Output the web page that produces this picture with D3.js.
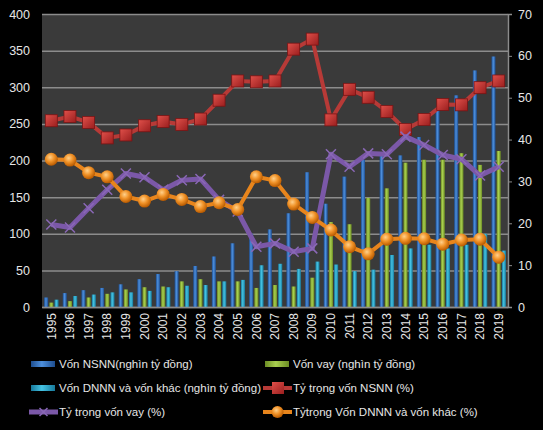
<!DOCTYPE html>
<html>
<head>
<meta charset="utf-8">
<script src="https://cdn.jsdelivr.net/npm/d3@7"></script>
<style>
body{margin:0;background:#000;}
svg text{font-family:"Liberation Sans",Arial,sans-serif;fill:#e6e6e6;}
</style>
</head>
<body>
<script>
// data
let years=[1995,1996,1997,1998,1999,2000,2001,2002,2003,2004,2005,2006,2007,2008,2009,2010,2011,2012,2013,2014,2015,2016,2017,2018,2019];
let vonNSNN=[13,19,23,26,31,38,45,49,56,69,87,100,106,128,184,141,178,201,206,207,232,269,289,323,342];
let vonVay=[6,8,13,18,24,27,28,35,38,35,35,26,30,28,40,116,113,149,162,197,201,201,210,194,213];
let vonDNNN=[10,15,17,20,20,22,27,29,30,35,37,57,59,52,62,58,49,51,71,80,85,80,85,100,77];
let ttNSNN=[44.5,45.5,44.1,40.4,41.1,43.3,44.3,43.6,44.9,49.4,54,53.8,54,61.6,64,44.7,52,50.1,46.7,42.4,44.8,48.4,48.3,52.4,54];
let ttVay=[19.7,19,23.6,28,31.9,31,28,30.3,30.6,25.6,22.8,14.4,15.2,13.2,14,36.5,33.5,36.7,36.5,40.7,38.7,36.3,35.3,31.4,33.5];
let ttDNNN=[35.3,35.1,32.1,31.1,26.4,25.3,26.9,25.7,24,24.9,23.3,31.1,30.2,24.6,21.4,18.4,14.4,12.7,16.2,16.4,16.3,15,16,16.2,11.9];
let leftTicks=[0,50,100,150,200,250,300,350,400];
let rightTicks=[0,10,20,30,40,50,60,70];
let barNames=["Vốn NSNN(nghìn tỷ đồng)","Vốn vay (nghìn tỷ đồng)","Vốn DNNN và vốn khác (nghìn tỷ đồng)"];
let lineNames=["Tỷ trọng vốn NSNN (%)","Tỷ trọng vốn vay (%)","Tỷtrọng Vốn DNNN và vốn khác (%)"];

let W=543,H=430;
let L=42,R=508,T=14,B=307;
let svg=d3.select("body").append("svg").attr("width",W).attr("height",H);
let defs=svg.append("defs");

function barGrad(id,dark,light){
    let g=defs.append("linearGradient").attr("id",id).attr("x1","0").attr("x2","1").attr("y1","0").attr("y2","0");
    g.append("stop").attr("offset","0").attr("stop-color",dark);
    g.append("stop").attr("offset","0.45").attr("stop-color",light);
    g.append("stop").attr("offset","1").attr("stop-color",dark);
}
barGrad("gBlue","#1d4d8f","#4d8fdc");
barGrad("gGreen","#6b8c23","#a9cf4f");
barGrad("gCyan","#17799b","#45c3e3");
let rg=defs.append("radialGradient").attr("id","gOrange").attr("cx","0.4").attr("cy","0.35").attr("r","0.65");
rg.append("stop").attr("offset","0").attr("stop-color","#ffd08a");
rg.append("stop").attr("offset","0.5").attr("stop-color","#f09228");
rg.append("stop").attr("offset","1").attr("stop-color","#b85a00");
let sg=defs.append("linearGradient").attr("id","gRed").attr("x1","0").attr("x2","1").attr("y1","0").attr("y2","1");
sg.append("stop").attr("offset","0").attr("stop-color","#e0504a");
sg.append("stop").attr("offset","1").attr("stop-color","#9a1e1e");

let x=d3.scaleBand().domain(years).range([L,R]).paddingInner(0.1).paddingOuter(0.05);
let xs=d3.scaleBand().domain([0,1,2]).range([0,x.bandwidth()]).padding(0.22);
let y=d3.scaleLinear().domain([0,400]).range([B,T]);
let y2=d3.scaleLinear().domain([0,70]).range([B,T]);

svg.append("rect").attr("x",L).attr("y",T).attr("width",R-L).attr("height",B-T).attr("fill","#3a3a3a");

// grid + left axis
let ga=svg.append("g").attr("transform",`translate(${L},0)`)
    .call(d3.axisLeft(y).tickValues(leftTicks).tickSize(-(R-L)).tickPadding(12));
ga.select(".domain").remove();
ga.selectAll("line").attr("stroke","#8c8c8c").attr("stroke-width",1.5);
ga.selectAll("text").style("font-size","12.5px").attr("fill","#e6e6e6");

// right axis
let gr=svg.append("g").attr("transform",`translate(${R},0)`)
    .call(d3.axisRight(y2).tickValues(rightTicks).tickSize(4).tickPadding(6));
gr.select(".domain").attr("stroke","#8c8c8c").attr("stroke-width",1.5);
gr.selectAll("line").attr("stroke","#8c8c8c");
gr.selectAll("text").style("font-size","12.5px").attr("fill","#e6e6e6");

// bars
let barSets=[vonNSNN,vonVay,vonDNNN];
let barFills=["url(#gBlue)","url(#gGreen)","url(#gCyan)"];
barSets.forEach((vals,k)=>{
    svg.append("g").selectAll("rect").data(vals).enter().append("rect")
        .attr("x",(d,i)=>x(years[i])+xs(k))
        .attr("width",xs.bandwidth())
        .attr("y",d=>y(d))
        .attr("height",d=>B-y(d))
        .attr("fill",barFills[k]);
});

// bottom axis
let gb=svg.append("g").attr("transform",`translate(0,${B})`)
    .call(d3.axisBottom(x).tickSize(0).tickPadding(6));
gb.select(".domain").attr("stroke","#8c8c8c").attr("stroke-width",1.5);
gb.selectAll("text").style("font-size","12px").attr("fill","#e6e6e6")
    .attr("transform","rotate(-90)").attr("text-anchor","end")
    .attr("x",-6).attr("y",0).attr("dy","0.35em");

let cx=i=>x(years[i])+x.bandwidth()/2;
let line=d3.line().x((d,i)=>cx(i)).y(d=>y2(d));

// red line with squares
svg.append("path").datum(ttNSNN).attr("d",line).attr("fill","none").attr("stroke","#b73a37").attr("stroke-width",4);
svg.append("g").selectAll("rect").data(ttNSNN).enter().append("rect")
    .attr("x",(d,i)=>cx(i)-6).attr("y",d=>y2(d)-6).attr("width",12).attr("height",12)
    .attr("fill","url(#gRed)").attr("stroke","#7a1414").attr("stroke-width",0.8);

// purple line with x markers
svg.append("path").datum(ttVay).attr("d",line).attr("fill","none").attr("stroke","#7b58a8").attr("stroke-width",5).attr("stroke-linejoin","round");
svg.append("g").selectAll("path").data(ttVay).enter().append("path")
    .attr("d",(d,i)=>{let a=cx(i),b=y2(d),s=5;return `M${a-s},${b-s}L${a+s},${b+s}M${a-s},${b+s}L${a+s},${b-s}`;})
    .attr("stroke","#8a68b6").attr("stroke-width",1.5);

// orange line with circles
svg.append("path").datum(ttDNNN).attr("d",line).attr("fill","none").attr("stroke","#e8851c").attr("stroke-width",4);
svg.append("g").selectAll("circle").data(ttDNNN).enter().append("circle")
    .attr("cx",(d,i)=>cx(i)).attr("cy",d=>y2(d)).attr("r",6.5)
    .attr("fill","url(#gOrange)");

// legend
let lg=svg.append("g").style("font-size","11.5px");
let legendItems=[
    {name:barNames[0],type:"bar",fill:"url(#gBlue)",x:31,y:364},
    {name:barNames[1],type:"bar",fill:"url(#gGreen)",x:265,y:364},
    {name:barNames[2],type:"bar",fill:"url(#gCyan)",x:31,y:388},
    {name:lineNames[0],type:"sq",x:263,y:388},
    {name:lineNames[1],type:"x",x:29,y:412},
    {name:lineNames[2],type:"ci",x:263,y:412}
];
legendItems.forEach(it=>{
    let g=lg.append("g");
    if(it.type=="bar"){
        g.append("rect").attr("x",it.x).attr("y",it.y-3).attr("width",24).attr("height",6).attr("fill",it.fill);
    }else if(it.type=="sq"){
        g.append("line").attr("x1",it.x).attr("x2",it.x+29).attr("y1",it.y).attr("y2",it.y).attr("stroke","#b73a37").attr("stroke-width",4);
        g.append("rect").attr("x",it.x+9).attr("y",it.y-6).attr("width",12).attr("height",12).attr("fill","url(#gRed)");
    }else if(it.type=="x"){
        g.append("line").attr("x1",it.x).attr("x2",it.x+29).attr("y1",it.y).attr("y2",it.y).attr("stroke","#7b58a8").attr("stroke-width",5);
        let a=it.x+14.5,b=it.y,s=4;
        g.append("path").attr("d",`M${a-s},${b-s}L${a+s},${b+s}M${a-s},${b+s}L${a+s},${b-s}`).attr("stroke","#8a68b6").attr("stroke-width",1.5);
    }else{
        g.append("line").attr("x1",it.x).attr("x2",it.x+29).attr("y1",it.y).attr("y2",it.y).attr("stroke","#e8851c").attr("stroke-width",4);
        g.append("circle").attr("cx",it.x+14.5).attr("cy",it.y).attr("r",6).attr("fill","url(#gOrange)");
    }
    g.append("text").attr("x",it.type=="bar"?it.x+28:it.x+30).attr("y",it.y).attr("dy","0.35em").text(it.name);
});
</script>
</body>
</html>
